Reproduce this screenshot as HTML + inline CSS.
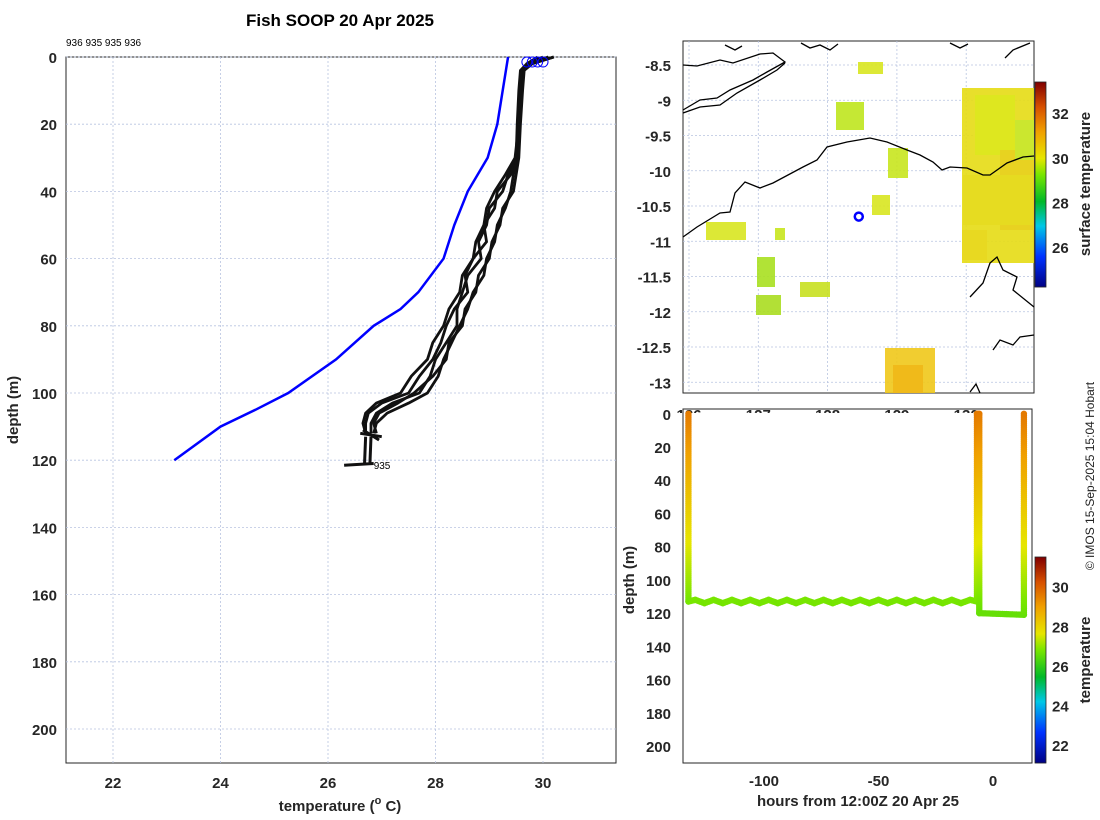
<!DOCTYPE html>
<html><head><meta charset="utf-8"><style>
body{margin:0;background:#fff;}
svg{display:block;font-family:"Liberation Sans",sans-serif;}
.tk{font-size:15px;font-weight:bold;fill:#262626;}
.grid{stroke:#b8c4e0;stroke-width:0.8;stroke-dasharray:2,2;}
</style></head><body>
<svg id="chart" width="1100" height="820" viewBox="0 0 1100 820">
<rect width="1100" height="820" fill="#fff"/>
<g id="left"></g>
<g id="map"></g>
<g id="lower"></g>
<text x="340" y="26" text-anchor="middle" font-size="17" font-weight="bold" fill="#000">Fish SOOP 20 Apr 2025</text>
<text x="66" y="46" font-size="10" fill="#000">936 935 935 936</text>
<text transform="translate(1094,476) rotate(-90)" text-anchor="middle" font-size="12" fill="#222">© IMOS 15-Sep-2025 15:04 Hobart</text>
</svg>
<script>
// ---------- data ----------
const xTicks = [22,24,26,28,30];
const yTicks = [0,20,40,60,80,100,120,140,160,180,200];
const climDepth = [0,5,10,20,30,40,50,60,70,75,80,90,100,105,110,120];
const climTemp  = [29.35,29.3,29.25,29.15,28.97,28.6,28.35,28.15,27.68,27.35,26.85,26.15,25.26,24.65,24.0,23.14];
const profDepth = [0,2,4,10,20,30,35,40,45,50,55,60,65,70,75,80,85,90,95,100,103,106,109,112];
const prof1 = [30.2,29.8,29.6,29.6,29.55,29.5,29.35,29.25,29.0,28.95,28.8,28.85,28.6,28.5,28.4,28.4,28.2,28.0,27.9,27.7,27.2,26.9,26.8,26.8];
const prof2 = [30.0,29.7,29.58,29.55,29.52,29.5,29.4,29.15,29.1,28.9,28.95,28.7,28.55,28.6,28.35,28.2,28.1,27.95,27.7,27.5,27.0,26.75,26.7,26.7];
const prof3 = [30.1,29.75,29.62,29.6,29.56,29.52,29.45,29.4,29.3,29.15,29.1,28.95,28.9,28.7,28.6,28.45,28.3,28.15,28.05,27.85,27.5,27.1,26.9,26.85];
const prof4 = [29.9,29.7,29.6,29.58,29.55,29.48,29.3,29.1,28.95,28.9,28.75,28.7,28.5,28.45,28.25,28.15,27.95,27.85,27.55,27.35,26.9,26.7,26.65,26.7];
const prof5 = [30.2,29.8,29.65,29.62,29.58,29.55,29.5,29.45,29.25,29.2,29.05,29.0,28.8,28.75,28.55,28.5,28.25,28.2,27.95,27.6,27.3,26.95,26.85,26.9];
const surfTemps = [29.7,29.8,29.9,30.0];
const latTicks = [-8.5,-9,-9.5,-10,-10.5,-11,-11.5,-12,-12.5,-13];
const lonTicks = [126,127,128,129,130];
const shipLon = 128.45, shipLat = -10.65;
const sstBar = [26,28,30,32];
const hourTicks = [-100,-50,0];
const lowDepthTicks = [0,20,40,60,80,100,120,140,160,180,200];
const trackHours = [-133,-133,-130,-126,-122,-118,-114,-110,-106,-102,-98,-94,-90,-86,-82,-78,-74,-70,-66,-62,-58,-54,-50,-46,-42,-38,-34,-30,-26,-22,-18,-14,-10,-7,-7,-6,-6,13.5,13.5];
const trackDepth = [0,113,112,114,112,114,112,114,112,114,112,114,112,114,112,114,112,114,112,114,112,114,112,114,112,114,112,114,112,114,112,114,112,113,0,0,120,121,0];
const tempBar = [22,24,26,28,30];

const NS='http://www.w3.org/2000/svg';
function mk(parent,tag,attrs){const e=document.createElementNS(NS,tag);for(const k in attrs)e.setAttribute(k,attrs[k]);parent.appendChild(e);return e;}
function txt(parent,x,y,s,cls,anchor){const t=mk(parent,'text',{x:x,y:y,'class':cls,'text-anchor':anchor||'middle'});t.textContent=s;return t;}
function cmap(f){
 const st=[[0,[0,0,130]],[0.15,[0,50,255]],[0.3,[0,200,230]],[0.42,[0,185,40]],[0.55,[120,230,0]],[0.63,[230,230,0]],[0.76,[240,160,0]],[0.88,[215,80,0]],[1,[130,0,0]]];
 f=Math.max(0,Math.min(1,f));
 for(let i=1;i<st.length;i++){if(f<=st[i][0]){const a=st[i-1],b=st[i],u=(f-a[0])/(b[0]-a[0]);return 'rgb('+a[1].map((v,j)=>Math.round(v+(b[1][j]-v)*u)).join(',')+')';}}
 return 'rgb(130,0,0)';
}

// ---------- left panel ----------
const L=document.getElementById('left');
const lx=t=>113+(t-22)*53.75, ly=d=>57+d*3.36;
mk(L,'rect',{x:66,y:57,width:550,height:706,fill:'none',stroke:'#262626','stroke-width':1});
xTicks.forEach(t=>{
 const g=mk(L,'line',{x1:lx(t),x2:lx(t),y1:57,y2:763,'class':'grid'});
 
 
 const tl=txt(L,lx(t),788,String(t),'tk');
 
 
});
yTicks.forEach(d=>{
 const g=mk(L,'line',{x1:66,x2:616,y1:ly(d),y2:ly(d),'class':'grid'});
 
 
 const tl=txt(L,57,ly(d)+6,String(d),'tk','end');
 
 
});
const xl=txt(L,340,811,'','tk');xl.setAttribute('font-size','17');
xl.innerHTML='temperature (<tspan font-size="11" dy="-7">o</tspan><tspan dy="7"> C)</tspan>';


const yl=txt(L,0,0,'depth (m)','tk');yl.setAttribute('font-size','17');yl.setAttribute('transform','translate(18,410) rotate(-90)');


const clim=mk(L,'polyline',{points:climDepth.map((d,i)=>lx(climTemp[i])+','+ly(d)).join(' '),fill:'none',stroke:'#0000ff','stroke-width':2.5});


[prof1,prof2,prof3,prof4,prof5].forEach((p,k)=>{
 const pl=mk(L,'polyline',{points:profDepth.map((d,i)=>lx(p[i])+','+ly(d)).join(' '),fill:'none',stroke:'#111','stroke-width':2.8,'stroke-linejoin':'round'});
 
 
});
const tail=mk(L,'path',{d:'M'+lx(26.6)+','+ly(112)+' L'+lx(27.0)+','+ly(113)+' M'+lx(26.65)+','+ly(111)+' L'+lx(26.95)+','+ly(114)+' M'+lx(26.7)+','+ly(113)+' L'+lx(26.68)+','+ly(121)+' M'+lx(26.8)+','+ly(113)+' L'+lx(26.78)+','+ly(121)+' M'+lx(26.3)+','+ly(121.5)+' L'+lx(26.85)+','+ly(121),fill:'none',stroke:'#111','stroke-width':3});


const lab=txt(L,lx(26.85),ly(122)+2,'935','', 'start');lab.setAttribute('font-size','10');


surfTemps.forEach(t=>{
 const c=mk(L,'circle',{cx:lx(t),cy:ly(1.5),r:5,fill:'none',stroke:'#0000ff','stroke-width':1});
 
 
});

// ---------- map ----------
const M=document.getElementById('map');
const mx=lon=>689+(lon-126)*69.3, my=lat=>65+(-8.5-lat)*70.5;
mk(M,'rect',{x:683,y:41,width:351,height:352,fill:'#fff',stroke:'#262626','stroke-width':1});
lonTicks.forEach(v=>{
 const g=mk(M,'line',{x1:mx(v),x2:mx(v),y1:41,y2:393,'class':'grid'});
 
 
 const tl=txt(M,mx(v),420,String(v),'tk');
 
 
});
latTicks.forEach(v=>{
 const g=mk(M,'line',{x1:683,x2:1034,y1:my(v),y2:my(v),'class':'grid'});
 
 
 const tl=txt(M,671,my(v)+6,String(v),'tk','end');
 
 
});
const patches=[[962,88,72,175,'#e6dc14'],[975,95,40,60,'#dde81e'],[1000,150,34,80,'#e8d020'],[962,230,25,30,'#e8d820'],[885,348,50,45,'#f0c81a'],[893,365,30,28,'#f0b818'],[706,222,40,18,'#d8e620'],[836,102,28,28,'#bfe61e'],[858,62,25,12,'#d8e620'],[888,148,20,30,'#c8e61e'],[757,257,18,30,'#a8e020'],[756,295,25,20,'#aadd20'],[800,282,30,15,'#c8e020'],[775,228,10,12,'#c8e61e'],[963,175,70,50,'#e6dc20'],[872,195,18,20,'#d8e620'],[1015,120,19,40,'#c8e830']];
patches.forEach(p=>{
 const r=mk(M,'rect',{x:p[0],y:p[1],width:p[2],height:p[3],fill:p[4],opacity:0.9});
 
 
});
const coasts=['M683,65 L697,66 L720,60 L733,63 L760,54 L773,53 L785,62 L767,72 L753,80 L730,90 L717,98 L700,100 L683,110',
'M683,113 L700,107 L720,105 L737,93 L760,80 L777,70 L785,63',
'M683,237 L697,227 L720,213 L730,212 L735,193 L745,182 L760,188 L773,183 L803,167 L817,160 L827,147 L847,142 L870,138 L887,142 L907,150 L920,155 L933,162 L942,170 L950,167 L967,168 L983,175 L990,175 L1007,163 L1023,157 L1034,156',
'M970,297 L983,283 L990,263 L997,257 L1003,270 L1017,277 L1013,290 L1034,307',
'M993,350 L1000,340 L1013,345 L1020,337 L1034,335',
'M1005,58 L1013,50 L1030,43',
'M801,43 L810,48 L820,45 L830,50 L838,44','M725,45 L735,50 L742,46','M950,43 L960,48 L968,44','M970,392 L976,384 L980,393'];
coasts.forEach(d=>{
 const c=mk(M,'path',{d:d,fill:'none',stroke:'#000','stroke-width':1.3});
 
 
});
const ship=mk(M,'circle',{cx:mx(shipLon),cy:my(shipLat),r:4,fill:'none',stroke:'#0000ff','stroke-width':2.5});


const sb=v=>287-(v-24.2)/(33.4-24.2)*205;
for(let i=0;i<205;i++){mk(M,'rect',{x:1035,y:82+i,width:11,height:1.2,fill:cmap(1-i/205)});}
mk(M,'rect',{x:1035,y:82,width:11,height:205,fill:'none',stroke:'#262626','stroke-width':0.8});
sstBar.forEach(v=>{
 const tl=txt(M,1052,sb(v)+6,String(v),'tk','start');
 
 
});
const st=txt(M,0,0,'surface temperature','tk');st.setAttribute('transform','translate(1090,184) rotate(-90)');



// ---------- lower panel ----------
const B=document.getElementById('lower');
mk(B,'rect',{x:680,y:413,width:355,height:356,fill:'#fff'});
const hx=h=>993+h*2.29, hy=d=>413.8+d*1.661;
mk(B,'rect',{x:683,y:409,width:349,height:354,fill:'none',stroke:'#262626','stroke-width':1});
mk(B,'rect',{x:640,y:413,width:42,height:10,fill:'#fff'});
lowDepthTicks.forEach(d=>{
 const tl=txt(B,671,hy(d)+6,String(d),'tk','end');
 
 
});
hourTicks.forEach(h=>{
 const tl=txt(B,hx(h),786,String(h),'tk');
 
 
});
const ht=txt(B,858,806,'hours from 12:00Z 20 Apr 25','tk');ht.setAttribute('font-size','17');


const dt=txt(B,0,0,'depth (m)','tk');dt.setAttribute('font-size','17');dt.setAttribute('transform','translate(634,580) rotate(-90)');


const tempAt=d=>29.6-(d/121)*3.0;
for(let i=1;i<trackHours.length;i++){
 const x1=hx(trackHours[i-1]),y1=hy(trackDepth[i-1]),x2=hx(trackHours[i]),y2=hy(trackDepth[i]);
 const n=Math.max(2,Math.ceil(Math.hypot(x2-x1,y2-y1)/2));
 for(let k=0;k<=n;k++){
  const u=k/n,d=trackDepth[i-1]+(trackDepth[i]-trackDepth[i-1])*u;
  const c=mk(B,'circle',{cx:x1+(x2-x1)*u,cy:y1+(y2-y1)*u,r:3.2,fill:cmap((tempAt(d)-21.1)/10.4)});
  
  
 }
}
const tb=v=>763-(v-21.1)/(31.5-21.1)*206;
for(let i=0;i<206;i++){mk(B,'rect',{x:1035,y:557+i,width:11,height:1.2,fill:cmap(1-i/206)});}
mk(B,'rect',{x:1035,y:557,width:11,height:206,fill:'none',stroke:'#262626','stroke-width':0.8});
tempBar.forEach(v=>{
 const tl=txt(B,1052,tb(v)+6,String(v),'tk','start');
 
 
});
const tt=txt(B,0,0,'temperature','tk');tt.setAttribute('transform','translate(1090,660) rotate(-90)');


</script>
</body></html>
